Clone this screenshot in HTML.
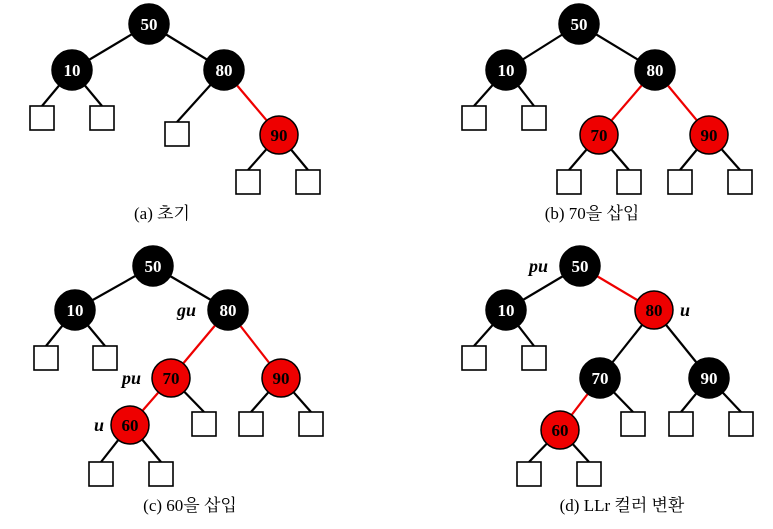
<!DOCTYPE html>
<html><head><meta charset="utf-8"><style>body{margin:0;background:#fff}svg{display:block}</style></head><body>
<svg width="773" height="529" viewBox="0 0 773 529" xmlns="http://www.w3.org/2000/svg" font-family="Liberation Serif, serif">
<g stroke-width="2.2" fill="none">
<!-- a -->
<g stroke="#000">
<line x1="149" y1="24" x2="72" y2="70"/><line x1="149" y1="24" x2="224" y2="70"/>
<line x1="72" y1="70" x2="42" y2="106"/><line x1="72" y1="70" x2="102" y2="106"/>
<line x1="224" y1="70" x2="177" y2="122"/>
<line x1="279" y1="135" x2="248" y2="170"/><line x1="279" y1="135" x2="308" y2="170"/>
</g>
<line x1="224" y1="70" x2="279" y2="135" stroke="#e00"/>
<!-- b -->
<g stroke="#000">
<line x1="579" y1="24" x2="506" y2="70"/><line x1="579" y1="24" x2="655" y2="70"/>
<line x1="506" y1="70" x2="474" y2="106"/><line x1="506" y1="70" x2="534" y2="106"/>
<line x1="599" y1="135" x2="569" y2="170"/><line x1="599" y1="135" x2="629" y2="170"/>
<line x1="709" y1="135" x2="680" y2="170"/><line x1="709" y1="135" x2="740" y2="170"/>
</g>
<g stroke="#e00"><line x1="655" y1="70" x2="599" y2="135"/><line x1="655" y1="70" x2="709" y2="135"/></g>
<!-- c -->
<g stroke="#000">
<line x1="153" y1="266" x2="75" y2="310"/><line x1="153" y1="266" x2="228" y2="310"/>
<line x1="75" y1="310" x2="46" y2="346"/><line x1="75" y1="310" x2="105" y2="346"/>
<line x1="171" y1="378" x2="204" y2="412"/>
<line x1="281" y1="378" x2="251" y2="412"/><line x1="281" y1="378" x2="311" y2="412"/>
<line x1="130" y1="425" x2="101" y2="462"/><line x1="130" y1="425" x2="161" y2="462"/>
</g>
<g stroke="#e00"><line x1="228" y1="310" x2="171" y2="378"/><line x1="228" y1="310" x2="281" y2="378"/><line x1="171" y1="378" x2="130" y2="425"/></g>
<!-- d -->
<g stroke="#000">
<line x1="580" y1="266" x2="506" y2="310"/>
<line x1="506" y1="310" x2="474" y2="346"/><line x1="506" y1="310" x2="534" y2="346"/>
<line x1="654" y1="310" x2="600" y2="378"/><line x1="654" y1="310" x2="709" y2="378"/>
<line x1="600" y1="378" x2="633" y2="412"/>
<line x1="709" y1="378" x2="681" y2="412"/><line x1="709" y1="378" x2="741" y2="412"/>
<line x1="560" y1="430" x2="529" y2="462"/><line x1="560" y1="430" x2="589" y2="462"/>
</g>
<g stroke="#e00"><line x1="580" y1="266" x2="654" y2="310"/><line x1="600" y1="378" x2="560" y2="430"/></g>
<!-- squares -->
<g stroke="#000" stroke-width="1.6" fill="#fff">
<rect x="30" y="106" width="24" height="24"/><rect x="90" y="106" width="24" height="24"/>
<rect x="165" y="122" width="24" height="24"/><rect x="236" y="170" width="24" height="24"/><rect x="296" y="170" width="24" height="24"/>
<rect x="462" y="106" width="24" height="24"/><rect x="522" y="106" width="24" height="24"/>
<rect x="557" y="170" width="24" height="24"/><rect x="617" y="170" width="24" height="24"/>
<rect x="668" y="170" width="24" height="24"/><rect x="728" y="170" width="24" height="24"/>
<rect x="34" y="346" width="24" height="24"/><rect x="93" y="346" width="24" height="24"/>
<rect x="192" y="412" width="24" height="24"/><rect x="239" y="412" width="24" height="24"/><rect x="299" y="412" width="24" height="24"/>
<rect x="89" y="462" width="24" height="24"/><rect x="149" y="462" width="24" height="24"/>
<rect x="462" y="346" width="24" height="24"/><rect x="522" y="346" width="24" height="24"/>
<rect x="621" y="412" width="24" height="24"/><rect x="669" y="412" width="24" height="24"/><rect x="729" y="412" width="24" height="24"/>
<rect x="517" y="462" width="24" height="24"/><rect x="577" y="462" width="24" height="24"/>
</g>
</g>
<!-- nodes -->
<g stroke="#000" stroke-width="1.5">
<circle cx="149" cy="24" r="20" fill="#000"/><circle cx="72" cy="70" r="20" fill="#000"/><circle cx="224" cy="70" r="20" fill="#000"/><circle cx="279" cy="135" r="19" fill="#e00"/>
<circle cx="579" cy="24" r="20" fill="#000"/><circle cx="506" cy="70" r="20" fill="#000"/><circle cx="655" cy="70" r="20" fill="#000"/><circle cx="599" cy="135" r="19" fill="#e00"/><circle cx="709" cy="135" r="19" fill="#e00"/>
<circle cx="153" cy="266" r="20" fill="#000"/><circle cx="75" cy="310" r="20" fill="#000"/><circle cx="228" cy="310" r="20" fill="#000"/><circle cx="171" cy="378" r="19" fill="#e00"/><circle cx="281" cy="378" r="19" fill="#e00"/><circle cx="130" cy="425" r="19" fill="#e00"/>
<circle cx="580" cy="266" r="20" fill="#000"/><circle cx="506" cy="310" r="20" fill="#000"/><circle cx="654" cy="310" r="19" fill="#e00"/><circle cx="600" cy="378" r="20" fill="#000"/><circle cx="709" cy="378" r="20" fill="#000"/><circle cx="560" cy="430" r="19" fill="#e00"/>
</g>
<g font-size="17" font-weight="bold" text-anchor="middle">
<g fill="#fff">
<text x="149" y="30">50</text><text x="72" y="76">10</text><text x="224" y="76">80</text>
<text x="579" y="30">50</text><text x="506" y="76">10</text><text x="655" y="76">80</text>
<text x="153" y="272">50</text><text x="75" y="316">10</text><text x="228" y="316">80</text>
<text x="580" y="272">50</text><text x="506" y="316">10</text><text x="600" y="384">70</text><text x="709" y="384">90</text>
</g>
<g fill="#000">
<text x="279" y="141">90</text><text x="599" y="141">70</text><text x="709" y="141">90</text>
<text x="171" y="384">70</text><text x="281" y="384">90</text><text x="130" y="431">60</text>
<text x="654" y="316">80</text><text x="560" y="436">60</text>
</g>
</g>
<g font-size="18" font-weight="bold" font-style="italic" fill="#000">
<text x="177" y="316">gu</text><text x="122" y="384">pu</text><text x="94" y="431">u</text>
<text x="529" y="272">pu</text><text x="680" y="316">u</text>
</g>
<g font-size="17" fill="#000" text-anchor="middle" font-family="Liberation Serif, Noto Serif CJK SC, serif">
<text x="162" y="219">(a) 초기</text>
<text x="592" y="219">(b) 70을 삽입</text>
<text x="190" y="511">(c) 60을 삽입</text>
<text x="622" y="511">(d) LLr 컬러 변환</text>
</g>
</svg>
</body></html>
